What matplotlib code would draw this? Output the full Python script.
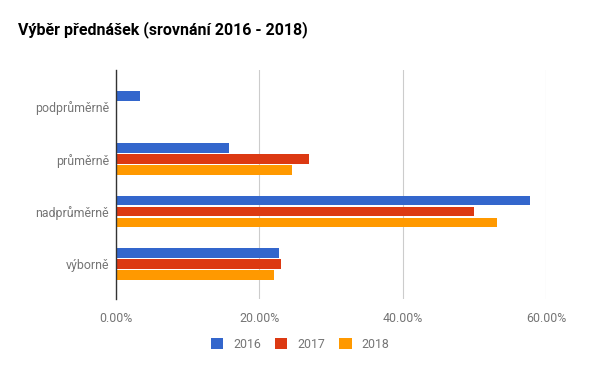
import matplotlib
matplotlib.use("Agg")
import matplotlib.pyplot as plt
import numpy as np
from matplotlib.patches import Patch

plt.rcParams['font.family'] = ['Roboto', 'DejaVu Sans']

# data
kategorie = ["podprůměrně", "průměrně", "nadprůměrně", "výborně"]
roky = ["2016", "2017", "2018"]
v2016 = [0.033, 0.157, 0.578, 0.227]
v2017 = [0.0, 0.269, 0.499, 0.230]
v2018 = [0.0, 0.245, 0.532, 0.221]
barvy = ["#3366cc", "#dc3912", "#ff9900"]
xticks = [0.0, 0.2, 0.4, 0.6]

fig = plt.figure(figsize=(6, 3.71), dpi=100)
ax = fig.add_axes([116/600, 1-299/371, (546-116)/600, (299-70)/371])

y = np.arange(len(kategorie))
h = 0.19
off = 0.21
for k, vals in enumerate([v2016, v2017, v2018]):
    ax.barh(y + (k-1)*off, vals, height=h, color=barvy[k], zorder=3)

ax.set_xlim(0, 0.6)
ax.set_ylim(3.67, -0.70)
ax.set_yticks(y)
ax.set_yticklabels(kategorie)
ax.set_xticks(xticks)
ax.set_xticklabels(["%.2f%%" % (t*100) for t in xticks])
ax.tick_params(length=0, labelsize=8.9, labelcolor="#757575")
ax.tick_params(axis='x', pad=9)
ax.tick_params(axis='y', pad=5)
ax.xaxis.grid(True, color="#cccccc", linewidth=0.8, zorder=0)
for s in ["top", "right", "bottom"]:
    ax.spines[s].set_visible(False)
ax.spines["left"].set_color("#333333")
ax.spines["left"].set_linewidth(1)
ax.spines["left"].set_zorder(4)

fig.text(18/600, 1-30/371, "Výběr přednášek (srovnání 2016 - 2018)",
         fontsize=11.5, fontweight="bold", color="#000000", va="center")

handles = [Patch(facecolor=c, edgecolor='none') for c in barvy]
leg = fig.legend(handles, roky, loc="center", bbox_to_anchor=(0.5, 1-344/371),
                 ncol=3, frameon=False, fontsize=8.9, handlelength=1.0,
                 handleheight=1.0, handletextpad=0.8, columnspacing=1.15)
for t in leg.get_texts():
    t.set_color("#757575")

fig.savefig("out.png", dpi=100)
